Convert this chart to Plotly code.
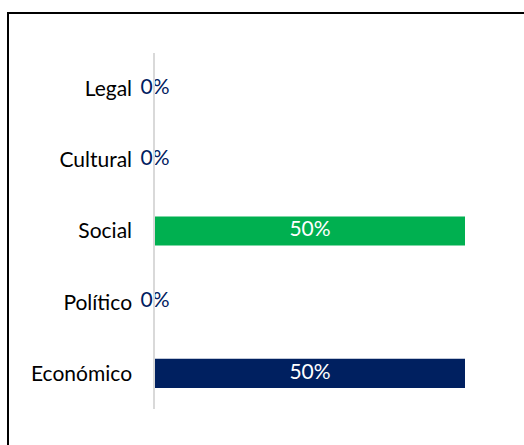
import plotly.graph_objects as go

# Dimensions, bottom to top as plotted
categories = ["Económico", "Político", "Social", "Cultural", "Legal"]
shares = [0.5, 0.0, 0.5, 0.0, 0.0]
bar_colors = ["#002060", "#002060", "#00B050", "#00B050", "#00B050"]

NAVY = "#002060"
FONT = "Lato"
SIZE = 21

W, H = 524, 445
L, R, T, B = 155, 59, 53, 36
plot_w = W - L - R
plot_h = H - T - B

fig = go.Figure()
fig.add_trace(go.Bar(
    x=shares,
    y=categories,
    orientation="h",
    marker=dict(color=bar_colors, line=dict(width=0)),
    hoverinfo="skip",
))

# value labels centred on each bar (zero bars get the label at the axis)
fig.add_trace(go.Scatter(
    x=[v / 2 for v in shares],
    y=categories,
    mode="text",
    text=[f"{v:.0%}" for v in shares],
    textposition="middle center",
    textfont=dict(family=FONT, size=SIZE,
                  color=["white" if v > 0 else NAVY for v in shares]),
    hoverinfo="skip",
    cliponaxis=False,
))


def px_x(p):
    return (p - L) / plot_w


def px_y(p):
    return (H - B - p) / plot_h


fig.update_layout(
    width=W,
    height=H,
    margin=dict(l=L, r=R, t=T, b=B, pad=0),
    paper_bgcolor="white",
    plot_bgcolor="white",
    showlegend=False,
    bargap=0.59,
    font=dict(family=FONT, size=SIZE, color="black"),
    xaxis=dict(range=[0, 0.5], visible=False, fixedrange=True),
    yaxis=dict(
        showline=True,
        linecolor="#d9d9d9",
        linewidth=1.5,
        showgrid=False,
        zeroline=False,
        ticks="",
        ticklabelstandoff=17,
        tickfont=dict(family=FONT, size=SIZE, color="black"),
        fixedrange=True,
    ),
    shapes=[dict(
        type="rect",
        xref="paper", yref="paper",
        x0=px_x(8), x1=px_x(540),
        y0=px_y(460), y1=px_y(13),
        line=dict(color="black", width=2),
        fillcolor="rgba(0,0,0,0)",
        layer="above",
    )],
)

fig.write_html("out.html")
